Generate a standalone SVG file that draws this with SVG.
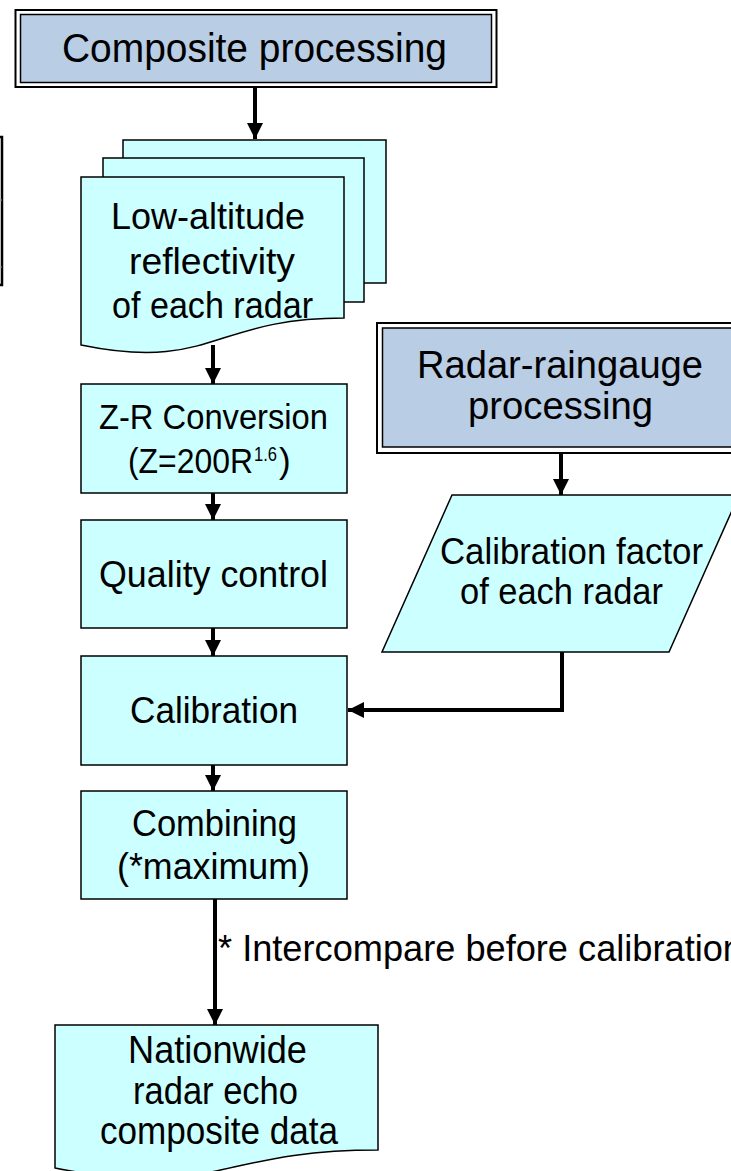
<svg xmlns="http://www.w3.org/2000/svg" width="731" height="1171" viewBox="0 0 731 1171">
  <style>
    .txt { font-family: "Liberation Sans", Arial, sans-serif; fill: #000; text-anchor: middle; }
    .st { text-anchor: start; }
    .proc { fill: #CCFFFF; stroke: #000; stroke-width: 1.5; }
    .hdr-out { fill: #FFFFFF; stroke: #000; stroke-width: 2; }
    .hdr-in { fill: #B9CDE5; stroke: #000; stroke-width: 1.5; }
    .conn { fill: none; stroke: #000; stroke-width: 4; }
  </style>
  <defs>
    <marker id="arrow" markerUnits="userSpaceOnUse" markerWidth="16" markerHeight="16" viewBox="0 0 16 16" refX="16" refY="8" orient="auto">
      <path d="M0,0 L16,8 L0,16 Z" fill="#000"/>
    </marker>
  </defs>

  <rect width="731" height="1171" fill="#FFFFFF"/>

  <!-- edge of a neighbouring box, cut by the frame -->
  <g id="edge-box">
    <path d="M0,137 H2 V285 H0" fill="none" stroke="#000" stroke-width="2.5"/>
    <path d="M0,200 H2 M0,267 H2" stroke="#999" stroke-width="1"/>
  </g>

  <!-- Composite processing -->
  <g id="composite-processing">
    <rect class="hdr-out" x="15.5" y="10" width="481" height="77"/>
    <rect class="hdr-in" x="20.5" y="14.5" width="471" height="68"/>
    <text class="txt" x="254.5" y="62" font-size="41" textLength="385" lengthAdjust="spacingAndGlyphs">Composite processing</text>
  </g>

  <!-- Low-altitude reflectivity (stacked documents) -->
  <g id="reflectivity-docs">
    <rect class="proc" x="123" y="140" width="263" height="143"/>
    <rect class="proc" x="103" y="158" width="261" height="144"/>
    <path class="proc" d="M81,177 H344 V318 C212,318 212,372 81,345 Z"/>
    <text class="txt" x="208" y="229" font-size="37" textLength="194" lengthAdjust="spacingAndGlyphs">Low-altitude</text>
    <text class="txt" x="212" y="274" font-size="37" textLength="166" lengthAdjust="spacingAndGlyphs">reflectivity</text>
    <text class="txt" x="212.5" y="318" font-size="37" textLength="201" lengthAdjust="spacingAndGlyphs">of each radar</text>
  </g>

  <!-- Z-R Conversion -->
  <g id="zr-conversion">
    <rect class="proc" x="81" y="384" width="266" height="109"/>
    <text class="txt" x="213.5" y="429" font-size="35" textLength="229" lengthAdjust="spacingAndGlyphs">Z-R Conversion</text>
    <text class="txt st" x="128" y="473" font-size="35" textLength="125" lengthAdjust="spacingAndGlyphs">(Z=200R</text>
    <text class="txt st" x="254" y="461" font-size="21" textLength="23" lengthAdjust="spacingAndGlyphs">1.6</text>
    <text class="txt st" x="279" y="473" font-size="35">)</text>
  </g>

  <!-- Quality control -->
  <g id="quality-control">
    <rect class="proc" x="81" y="520" width="266" height="108"/>
    <text class="txt" x="213.5" y="587" font-size="36" textLength="229" lengthAdjust="spacingAndGlyphs">Quality control</text>
  </g>

  <!-- Calibration -->
  <g id="calibration">
    <rect class="proc" x="81" y="656" width="266" height="109"/>
    <text class="txt" x="214" y="723" font-size="37" textLength="168" lengthAdjust="spacingAndGlyphs">Calibration</text>
  </g>

  <!-- Combining -->
  <g id="combining">
    <rect class="proc" x="81" y="791" width="266" height="108"/>
    <text class="txt" x="214.5" y="836" font-size="37" textLength="165" lengthAdjust="spacingAndGlyphs">Combining</text>
    <text class="txt" x="213.5" y="879" font-size="37" textLength="193" lengthAdjust="spacingAndGlyphs">(*maximum)</text>
  </g>

  <!-- Nationwide composite (document) -->
  <g id="nationwide-composite">
    <path class="proc" d="M55,1025 H378 V1150 C216,1150 216,1200 55,1168 Z"/>
    <text class="txt" x="217.5" y="1063" font-size="38" textLength="179" lengthAdjust="spacingAndGlyphs">Nationwide</text>
    <text class="txt" x="215.5" y="1104" font-size="38" textLength="165" lengthAdjust="spacingAndGlyphs">radar echo</text>
    <text class="txt" x="219" y="1144" font-size="38" textLength="238" lengthAdjust="spacingAndGlyphs">composite data</text>
  </g>

  <!-- Radar-raingauge processing -->
  <g id="raingauge-processing">
    <rect class="hdr-out" x="377" y="323" width="370" height="130"/>
    <rect class="hdr-in" x="382.5" y="328" width="360" height="119"/>
    <text class="txt" x="560" y="378" font-size="38" textLength="286" lengthAdjust="spacingAndGlyphs">Radar-raingauge</text>
    <text class="txt" x="560.5" y="419" font-size="38" textLength="185" lengthAdjust="spacingAndGlyphs">processing</text>
  </g>

  <!-- Calibration factor (data) -->
  <g id="calibration-factor">
    <path class="proc" d="M452,495 H739 L669,652 H382 Z"/>
    <text class="txt" x="571.5" y="564" font-size="36" textLength="263" lengthAdjust="spacingAndGlyphs">Calibration factor</text>
    <text class="txt" x="561.5" y="604" font-size="36" textLength="203" lengthAdjust="spacingAndGlyphs">of each radar</text>
  </g>

  <!-- note on the combining step -->
  <text class="txt st" x="218" y="961" font-size="37" textLength="525" lengthAdjust="spacingAndGlyphs">* Intercompare before calibration</text>

  <!-- connectors -->
  <g id="connectors">
    <line class="conn" x1="255" y1="87" x2="255" y2="139" marker-end="url(#arrow)"/>
    <line class="conn" x1="213" y1="345" x2="213" y2="384" marker-end="url(#arrow)"/>
    <line class="conn" x1="213" y1="493" x2="213" y2="520" marker-end="url(#arrow)"/>
    <line class="conn" x1="213" y1="628" x2="213" y2="656" marker-end="url(#arrow)"/>
    <line class="conn" x1="213" y1="765" x2="213" y2="791" marker-end="url(#arrow)"/>
    <line class="conn" x1="215" y1="899" x2="215" y2="1025" marker-end="url(#arrow)"/>
    <line class="conn" x1="561" y1="453" x2="561" y2="495" marker-end="url(#arrow)"/>
    <path class="conn" d="M562,652 V710 H348" marker-end="url(#arrow)"/>
  </g>
</svg>
